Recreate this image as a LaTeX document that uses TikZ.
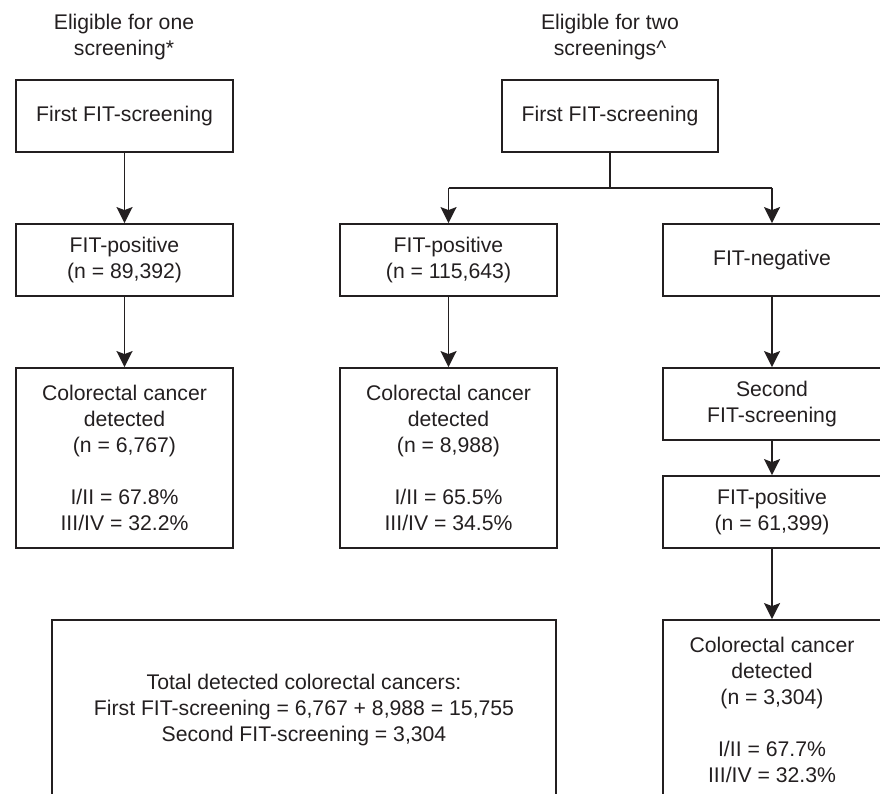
\documentclass[tikz,border=0pt]{standalone}
\usepackage{fontspec}
\setmainfont{Liberation Sans}
\usetikzlibrary{arrows.meta}
\definecolor{ink}{HTML}{231F20}
\begin{document}
\begin{tikzpicture}[x=1pt,y=-1pt,
  box/.style={draw=ink, line width=1.8pt, text=ink, align=center, inner sep=0pt,
    minimum width=217pt, minimum height=72pt, font=\fontsize{21.2}{26}\selectfont},
  tall/.style={box, minimum height=180pt},
  title/.style={text=ink, align=center, inner sep=0pt, font=\fontsize{21.2}{25.5}\selectfont},
  arr/.style={draw=ink, line width=1.8pt, -{Stealth[length=16pt,width=16pt,inset=3pt]}},
  ln/.style={draw=ink, line width=1.8pt}]
\useasboundingbox (0,0) rectangle (880,794);
\begin{scope}
\clip (0,0) rectangle (880,794);
% titles
\node[title] (t1) at (124,37) {Eligible for one\\screening*};
\node[title] (t2) at (610,37) {Eligible for two\\screenings\^{}};
% left column
\node[box] (A1) at (124.5,116) {First FIT-screening};
\node[box] (B1) at (124.5,260) {FIT-positive\\(n = 89,392)};
\node[tall] (C1) at (124.5,458) {Colorectal cancer\\detected\\(n = 6,767)\\[26pt]I/II = 67.8\%\\III/IV = 32.2\%};
% right part
\node[box, minimum width=216pt] (A2) at (610,116) {First FIT-screening};
\node[box] (B2) at (448.5,260) {FIT-positive\\(n = 115,643)};
\node[tall] (C2) at (448.5,458) {Colorectal cancer\\detected\\(n = 8,988)\\[26pt]I/II = 65.5\%\\III/IV = 34.5\%};
\node[box, minimum width=218pt] (N) at (772,260) {FIT-negative};
\node[box, minimum width=218pt] (S) at (772,404) {Second\\FIT-screening};
\node[box, minimum width=218pt] (P) at (772,512) {FIT-positive\\(n = 61,399)};
\node[tall, minimum width=218pt] (R) at (772,710) {Colorectal cancer\\detected\\(n = 3,304)\\[26pt]I/II = 67.7\%\\III/IV = 32.3\%};
\node[tall, minimum width=504pt] (T) at (304,710) {Total detected colorectal cancers:\\First FIT-screening = 6,767 + 8,988 = 15,755\\Second FIT-screening = 3,304};
% connectors
\draw[arr] (A1) -- (B1);
\draw[arr] (B1) -- (C1);
\coordinate (J) at (610,188);
\coordinate (JL) at (448.5,188);
\coordinate (JR) at (772,188);
\draw[ln] (A2.south) -- (J);
\draw[ln] (JL) -- (JR);
\draw[arr] (JL) -- (B2.north);
\draw[arr] (JR) -- (N.north);
\draw[arr] (B2) -- (C2);
\draw[arr] (N) -- (S);
\draw[arr] (S) -- (P);
\draw[arr] (P) -- (R);
\end{scope}
\end{tikzpicture}
\end{document}
